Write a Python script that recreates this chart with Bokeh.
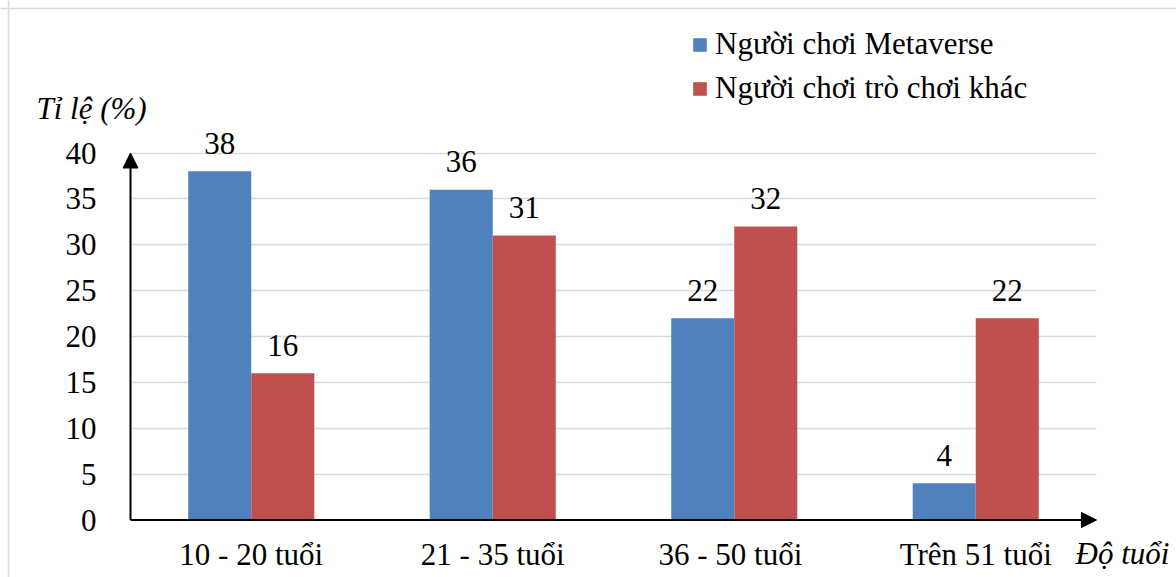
from bokeh.plotting import figure
from bokeh.models import (ColumnDataSource, Range1d, FixedTicker, Arrow, NormalHead,
                          Label, Legend, LegendItem, Span)
from bokeh.core.properties import value
from bokeh.embed import file_html
from bokeh.resources import INLINE

categories = ["10 - 20 tuổi", "21 - 35 tuổi", "36 -  50 tuổi", "Trên 51 tuổi"]
metaverse = [38, 36, 22, 4]
other_games = [16, 31, 32, 22]
series_names = ["Người chơi Metaverse", "Người chơi trò chơi khác"]
y_ticks = [0, 5, 10, 15, 20, 25, 30, 35, 40]
y_title = "Tỉ lệ (%)"
x_title = "Độ tuổi"

FONT = "Liberation Serif"
FS = "31px"
BLUE = "#4F81BD"
RED = "#C0504D"
GRID = "#d9d9d9"

W, H = 1176, 577
n = len(categories)

# pixel geometry of the plotting area (origin of axes and scale)
X0, PX_PER_CAT = 130.0, 241.5
Y0, PX_PER_UNIT = 519.5, 9.175

def xd(px):
    return (px - X0) / PX_PER_CAT

def yd(py):
    return (Y0 - py) / PX_PER_UNIT

centers = [i + 0.5 for i in range(n)]
bw = 0.261
off = bw / 2
lab_off = 28 / PX_PER_UNIT

src = ColumnDataSource(dict(
    xm=[c - off for c in centers],
    xo=[c + off for c in centers],
    m=metaverse,
    o=other_games,
    ym=[v + lab_off for v in metaverse],
    yo=[v + lab_off for v in other_games],
    lm=[str(v) for v in metaverse],
    lo=[str(v) for v in other_games],
))

p = figure(width=W, height=H,
           x_range=Range1d(xd(0), xd(W)), y_range=Range1d(yd(H), yd(0)),
           output_backend="svg", toolbar_location=None,
           min_border=0, min_border_left=0, min_border_right=0,
           min_border_top=0, min_border_bottom=0)
p.outline_line_color = None
p.background_fill_color = "white"
p.border_fill_color = "white"

# outer chart border (only its top and left edges are inside the picture)
p.add_layout(Span(location=yd(8), dimension="width", line_color=GRID, line_width=1.5))
p.add_layout(Span(location=xd(8), dimension="height", line_color=GRID, line_width=1.5))

# axes drawn at the data origin
p.xaxis.ticker = FixedTicker(ticks=centers)
p.xaxis.major_label_overrides = {c: cat for c, cat in zip(centers, categories)}
p.yaxis.ticker = FixedTicker(ticks=y_ticks)
for ax in (p.xaxis, p.yaxis):
    ax.fixed_location = 0
    ax.axis_line_color = None
    ax.major_tick_line_color = None
    ax.minor_tick_line_color = None
    ax.major_label_text_font = FONT
    ax.major_label_text_font_size = FS
    ax.major_label_text_color = "black"
p.xaxis.major_label_standoff = 11
p.yaxis.major_label_standoff = 28

p.xgrid.visible = False
g = p.ygrid[0]
g.ticker = FixedTicker(ticks=y_ticks[1:])
g.grid_line_color = GRID
g.grid_line_width = 1.5
if "cross_bounds" in g.properties():
    g.cross_bounds = (0, n)
else:
    g.visible = False
    p.segment(x0=[0] * (len(y_ticks) - 1), x1=[n] * (len(y_ticks) - 1),
              y0=y_ticks[1:], y1=y_ticks[1:], line_color=GRID, line_width=1.5)

r1 = p.vbar(x="xm", top="m", width=bw, source=src, fill_color=BLUE, line_color=None)
r2 = p.vbar(x="xo", top="o", width=bw, source=src, fill_color=RED, line_color=None)

for xk, yk, tk in (("xm", "ym", "lm"), ("xo", "yo", "lo")):
    p.text(x=xk, y=yk, text=tk, source=src, text_align="center", text_baseline="middle",
           text_font=value(FONT), text_font_size=FS, text_color="black")

# arrow axes
p.add_layout(Arrow(end=NormalHead(size=15, fill_color="black", line_color="black"),
                   x_start=0, y_start=0, x_end=0, y_end=y_ticks[-1],
                   line_width=2, line_color="black"))
p.add_layout(Arrow(end=NormalHead(size=15, fill_color="black", line_color="black"),
                   x_start=0, y_start=0, x_end=n, y_end=0,
                   line_width=2, line_color="black"))

p.add_layout(Label(x=xd(36), y=yd(108), text=y_title, text_font=FONT, text_font_size=FS,
                   text_font_style="italic", text_align="left", text_baseline="middle",
                   text_color="black"))
p.add_layout(Label(x=xd(1075), y=yd(553), text=x_title, text_font=FONT, text_font_size=FS,
                   text_font_style="italic", text_align="left", text_baseline="middle",
                   text_color="black"))

legend = Legend(items=[LegendItem(label=series_names[0], renderers=[r1]),
                       LegendItem(label=series_names[1], renderers=[r2])],
                location=(691, 471), orientation="vertical",
                glyph_width=17, glyph_height=17, label_height=20,
                label_standoff=7, spacing=8, padding=0, margin=0,
                label_text_font=FONT, label_text_font_size=FS, label_text_color="black",
                border_line_color=None, background_fill_alpha=0)
p.add_layout(legend)

open("out.html", "w").write(file_html(p, INLINE))
